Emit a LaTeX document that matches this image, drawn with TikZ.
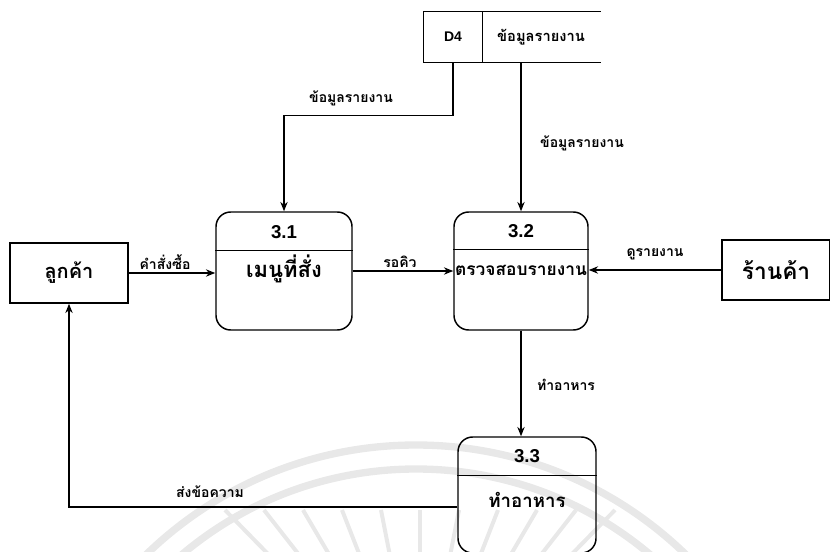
\documentclass[tikz,border=0pt]{standalone}
\usepackage{fontspec}
\setmainfont{Liberation Sans}
\newfontfamily\thai[Script=Thai]{Loma}
\usetikzlibrary{arrows.meta,calc}
\begin{document}
\begin{tikzpicture}[x=0.75pt,y=-0.75pt,
  line width=1.1pt,
  entity/.style={draw,minimum width=88.5pt,minimum height=45pt,inner sep=0pt,font=\thai\bfseries\fontsize{15}{18}\selectfont},
  proc/.style={draw,rounded corners=11pt,minimum height=88.5pt,inner sep=0pt},
  pid/.style={font=\bfseries\fontsize{14}{16}\selectfont},
  pname/.style={font=\thai\bfseries\fontsize{14}{16}\selectfont,inner sep=0pt},
  flow/.style={font=\thai\bfseries\fontsize{10.5}{12}\selectfont,inner sep=1pt},
  arr/.style={-{Stealth[length=7pt,width=5.5pt]}},
  seal/.style={line width=5.5pt,draw=black!9}]
\useasboundingbox (0,0) rectangle (830,552);

% faint seal in the background
\begin{scope}
  \clip (0,380) rectangle (830,552);
  \draw[seal] (416,832) circle[radius=387];
  \draw[seal] (416,832) circle[radius=363];
  \foreach \x in {270,300,330,360,390,420,450,480,510,540,570}
    \draw[seal,line width=3pt] (\x,556) -- ({\x+(\x-420)*0.3},510);
\end{scope}

% data store D4 (open on the right)
\node[minimum width=43.5pt,minimum height=37.5pt,inner sep=0pt,font=\bfseries\fontsize{10.5}{12}\selectfont] (d4a) at (453,37) {D4};
\node[minimum width=88.5pt,minimum height=37.5pt,inner sep=0pt,font=\thai\bfseries\fontsize{11}{13}\selectfont] (d4b) at (541,37) {ข้อมูลรายงาน};
\draw (d4b.north east) -- (d4a.north west) -- (d4a.south west) -- (d4b.south east);
\draw (d4a.north east) -- (d4a.south east);

% external entities
\node[entity] (cust) at (69,273) {ลูกค้า};
\node[entity,minimum width=81pt,font=\thai\bfseries\fontsize{17}{20}\selectfont] (shop) at (776,270) {ร้านค้า};

% processes
\node[proc,minimum width=102pt] (p1) at (284,271) {};
\node[proc,minimum width=100.5pt] (p2) at (521,271) {};
\node[proc,minimum width=103.5pt,minimum height=87pt] (p3) at (527,495) {};
\draw ($(p1.north west)+(0,39)$) -- ($(p1.north east)+(0,39)$);
\draw ($(p2.north west)+(0,38)$) -- ($(p2.north east)+(0,38)$);
\draw ($(p3.north west)+(0,39)$) -- ($(p3.north east)+(0,39)$);
\node[pid] (p1id) at (284,232) {3.1};
\node[pid] (p2id) at (521,231) {3.2};
\node[pid] (p3id) at (527,456) {3.3};
\node[pname,font=\thai\bfseries\fontsize{16.5}{18}\selectfont] (p1nm) at (284,269) {เมนูที่สั่ง};
\node[pname,font=\thai\bfseries\fontsize{13}{15}\selectfont] (p2nm) at (521,270) {ตรวจสอบรายงาน};
\node[pname] (p3nm) at (527,500) {ทำอาหาร};

% data flows
\draw[arr] (d4a.south) -- ++(0,53) -| (p1.north);
\draw[arr] (p2.north |- d4b.south) -- (p2.north);
\draw[arr] (cust.east) -- (cust.east -| p1.west);
\draw[arr] (p1.east) -- (p2.west);
\draw[arr] (shop.west) -- (shop.west -| p2.east);
\draw[arr] (p2.south) -- (p2.south |- p3.north);
\draw[arr] ($(p3.west)+(0,12)$) -| (cust.south);

% flow labels
\node[flow] (l1) at (351,98) {ข้อมูลรายงาน};
\node[flow] (l2) at (582,143) {ข้อมูลรายงาน};
\node[flow] (l3) at (165,262) {คำสั่งซื้อ};
\node[flow] (l4) at (400,262) {รอคิว};
\node[flow] (l5) at (655,254) {ดูรายงาน};
\node[flow] (l6) at (566,385) {ทำอาหาร};
\node[flow] (l7) at (210,492) {ส่งข้อความ};
\end{tikzpicture}
\end{document}
